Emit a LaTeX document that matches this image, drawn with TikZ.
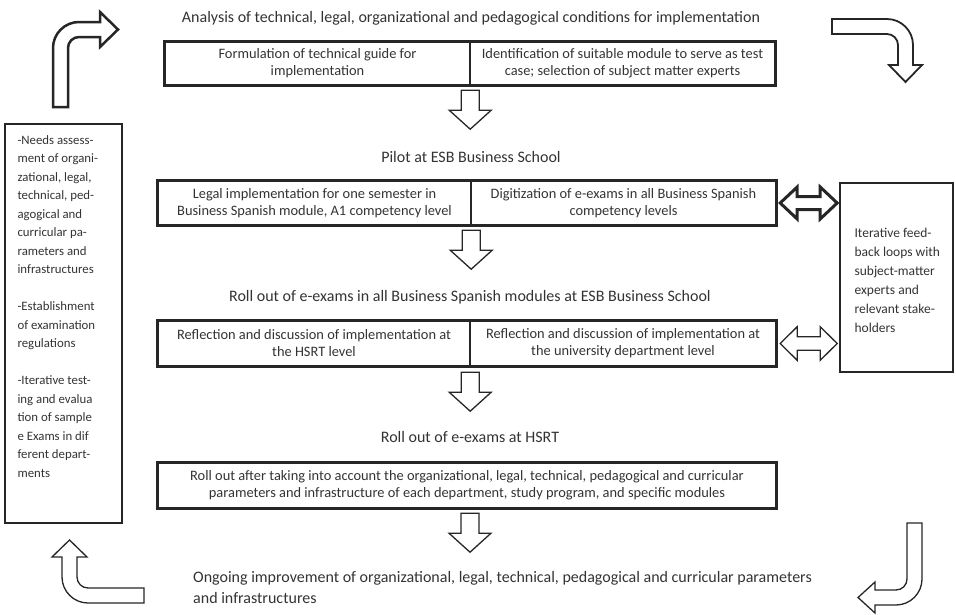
\documentclass[tikz,border=0pt]{standalone}
\usepackage{fontspec}
\setmainfont{Carlito}
\usetikzlibrary{calc}
\begin{document}
\begin{tikzpicture}[x=1pt,y=-1pt,
  title/.style={text=black!80, font=\fontsize{16}{21}\selectfont, inner sep=0pt},
  cell/.style={text=black!80, font=\fontsize{14.4}{17}\selectfont, align=center, inner sep=0pt},
  sidetext/.style={text=black!80, align=left, inner sep=0pt, anchor=north west},
  frame/.style={draw=black!85, line width=3pt},
  divider/.style={draw=black!85, line width=2pt},
  sidebox/.style={draw=black!85, line width=1.3pt, inner sep=0pt},
  hollow/.style={draw=black!85, fill=white, line join=miter},
  downarr/.pic={\draw[hollow, line width=1.3pt] (-9,0) -- (9,0) -- (9,20) -- (21,20) -- (0,39) -- (-21,20) -- (-9,20) -- cycle;},
  dblarr/.pic={\draw[hollow] (0,0) -- (17,-16) -- (17,-6.5) -- (40,-6.5) -- (40,-16) -- (57,0) -- (40,16) -- (40,6.5) -- (17,6.5) -- (17,16) -- cycle;}
]
\useasboundingbox (0,0) rectangle (956,614);

% titles
\node[title] (t1) at (471,18) {Analysis of technical, legal, organizational and pedagogical conditions for implementation};
\node[title] (t2) at (471,157) {Pilot at ESB Business School};
\node[title] (t3) at (470,297) {Roll out of e-exams in all Business Spanish modules at ESB Business School};
\node[title] (t4) at (470,437) {Roll out of e-exams at HSRT};
\node[title, anchor=north west, align=left] (t5) at (193,571) {Ongoing improvement of organizational, legal, technical, pedagogical and curricular parameters\\and infrastructures};

% row 1
\node[cell, minimum width=305pt, minimum height=43pt] (b1l) at (317.5,63.5) {Formulation of technical guide for\\implementation};
\node[cell, minimum width=305pt, minimum height=43pt] (b1r) at (622.5,63.5) {Identification of suitable module to serve as test\\case; selection of subject matter experts};
\draw[frame] (b1l.north west) rectangle (b1r.south east);
\draw[divider] (b1l.north east) -- (b1l.south east);

% row 2
\node[cell, minimum width=313pt, minimum height=44pt] (b2l) at (314.5,203) {Legal implementation for one semester in\\Business Spanish module, A1 competency level};
\node[cell, minimum width=305pt, minimum height=44pt] (b2r) at (623.5,203) {Digitization of e-exams in all Business Spanish\\competency levels};
\draw[frame] (b2l.north west) rectangle (b2r.south east);
\draw[divider] (b2l.north east) -- (b2l.south east);

% row 3
\node[cell, minimum width=312pt, minimum height=45pt] (b3l) at (314,343.5) {Reflection and discussion of implementation at\\the HSRT level};
\node[cell, minimum width=306pt, minimum height=45pt] (b3r) at (623,343.5) {Reflection and discussion of implementation at\\the university department level};
\draw[frame] (b3l.north west) rectangle (b3r.south east);
\draw[divider] (b3l.north east) -- (b3l.south east);

% row 4
\node[cell, minimum width=618pt, minimum height=45pt] (b4) at (467,485.5) {Roll out after taking into account the organizational, legal, technical, pedagogical and curricular\\parameters and infrastructure of each department, study program, and specific modules};
\draw[frame] (b4.north west) rectangle (b4.south east);

% down arrows
\pic at ($(b1l.south east)+(0,5)$) {downarr};
\pic at ($(b2l.south east)+(0,5)$) {downarr};
\pic at ($(b3l.south east)+(0,6)$) {downarr};
\pic at ($(b4.south)+(3,5)$) {downarr};

% left box
\node[sidebox, minimum width=117pt, minimum height=399pt] (lb) at (63.5,323.5) {};
\node[sidetext, font=\fontsize{12.8}{18.5}\selectfont] (lbt) at ($(lb.north west)+(13,12)$) {-Needs assess-\\ment of organi-\\zational, legal,\\technical, ped-\\agogical and\\curricular pa-\\rameters and\\infrastructures\\[18.5pt]-Establishment\\of examination\\regulations\\[18.5pt]-Iterative test-\\ing and evalua\\tion of sample\\e Exams in dif\\ferent depart-\\ments};

% right box
\node[sidebox, minimum width=113pt, minimum height=189pt] (rb) at (896.5,277.5) {};
\node[sidetext, font=\fontsize{13.5}{19}\selectfont] (rbt) at ($(rb.north west)+(15,46)$) {Iterative feed-\\back loops with\\subject-matter\\experts and\\relevant stake-\\holders};

% double arrows
\pic[line width=3pt] at ($(b2r.east)+(4,0)$) {dblarr};
\pic[line width=1.3pt, yscale=1.05] at ($(b3r.east)+(4,0)$) {dblarr};

% bent arrows
\draw[hollow, line width=2.5pt] (53,107) -- (53,48) .. controls (53,33.7) and (64.7,22) .. (79,22) -- (100,22) -- (100,12) -- (118,29.5) -- (100,47) -- (100,37) -- (79,37) .. controls (72.95,37) and (68,41.95) .. (68,48) -- (68,107) -- cycle;
\draw[hollow, line width=1.8pt] (832,19) -- (887,19) .. controls (901.3,19) and (913,30.7) .. (913,45) -- (913,65) -- (922,65) -- (905.5,82) -- (889,65) -- (898,65) -- (898,45) .. controls (898,38.95) and (893.05,34) .. (887,34) -- (832,34) -- cycle;
\draw[hollow, line width=1.3pt] (144,588) -- (88,588) .. controls (81.95,588) and (77,583.05) .. (77,577) -- (77,557) -- (87,557) -- (69.5,540) -- (52,557) -- (62,557) -- (62,577) .. controls (62,591.3) and (73.7,603) .. (88,603) -- (144,603) -- cycle;
\draw[hollow, line width=1.3pt] (907,523) -- (922,523) -- (922,579) .. controls (922,593.3) and (910.3,605) .. (896,605) -- (875,605) -- (875,613) -- (858,597.5) -- (875,582) -- (875,590) -- (896,590) .. controls (902.05,590) and (907,585.05) .. (907,579) -- cycle;
\end{tikzpicture}
\end{document}
